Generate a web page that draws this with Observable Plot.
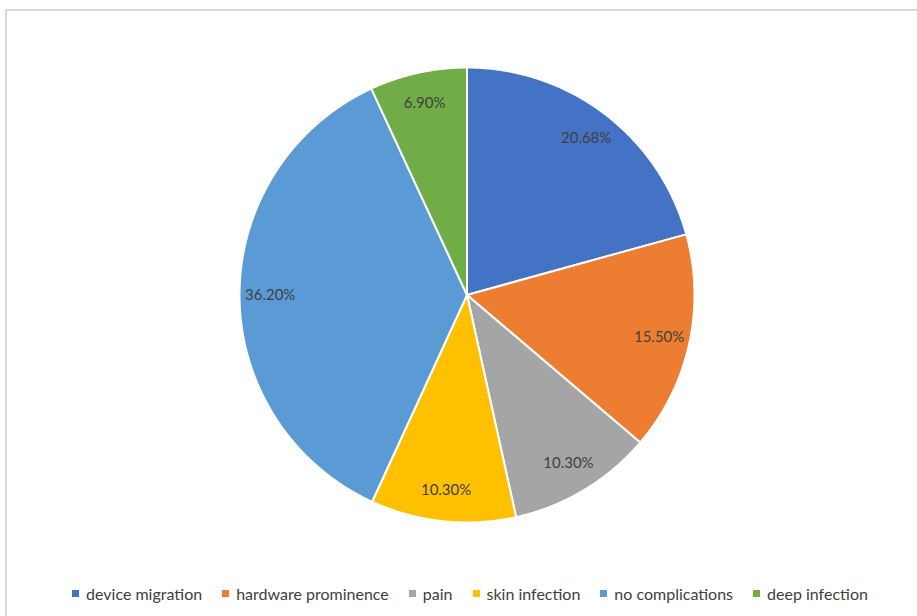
<!DOCTYPE html>
<html>
<head>
<meta charset="utf-8">
<script src="https://cdn.jsdelivr.net/npm/d3@7"></script>
<script src="https://cdn.jsdelivr.net/npm/@observablehq/plot@0.6"></script>
<style>
  html, body { margin: 0; padding: 0; background: #fff; }
  body { width: 917px; height: 616px; position: relative; overflow: hidden; font-family: Lato, "Open Sans", sans-serif; }
  #frame { position: absolute; left: 5px; top: 9px; width: 930px; height: 640px; border: 2px solid #d9d9d9; box-sizing: border-box; }
  #chart { position: absolute; left: 0; top: 0; }
  #legend { position: absolute; left: 0; top: 584px; width: 940px; display: flex; justify-content: center; gap: 20px; font-size: 16px; color: #404040; }
  #legend .item { display: flex; align-items: center; white-space: nowrap; }
  #legend .sw { width: 7px; height: 7px; margin-right: 7px; display: inline-block; }
</style>
</head>
<body>
<div id="frame"></div>
<div id="chart"></div>
<div id="legend"></div>
<script>
const categories = ["device migration", "hardware prominence", "pain", "skin infection", "no complications", "deep infection"];
const values = [20.68, 15.50, 10.30, 10.30, 36.20, 6.90];
const colors = ["#4472C4", "#ED7D31", "#A5A5A5", "#FFC000", "#5B9BD5", "#70AD47"];

const data = categories.map((name, i) => ({name, value: values[i]}));
const pie = d3.pie().value(d => d.value).sort(null)(data);

// build slice outlines in unit-circle coordinates (clockwise from 12 o'clock)
const outline = [];
for (const s of pie) {
  outline.push({name: s.data.name, x: 0, y: 0});
  const steps = Math.max(2, Math.ceil((s.endAngle - s.startAngle) / 0.005));
  for (let k = 0; k <= steps; k++) {
    const a = s.startAngle + (s.endAngle - s.startAngle) * k / steps;
    outline.push({name: s.data.name, x: Math.sin(a), y: Math.cos(a)});
  }
}
const labelR = 0.865;
const labels = pie.map(s => {
  const a = (s.startAngle + s.endAngle) / 2;
  return {name: s.data.name, x: labelR * Math.sin(a), y: labelR * Math.cos(a), text: s.data.value.toFixed(2) + "%"};
});

const chart = Plot.plot({
  width: 917,
  height: 570,
  marginLeft: 239,
  marginRight: 223,
  marginTop: 67,
  marginBottom: 48,
  x: {domain: [-1, 1], axis: null},
  y: {domain: [-1, 1], axis: null},
  color: {domain: categories, range: colors},
  style: {fontFamily: "Lato, 'Open Sans', sans-serif", background: "transparent"},
  marks: [
    Plot.line(outline, {x: "x", y: "y", z: "name", fill: "name", stroke: "white", strokeWidth: 2, strokeLinejoin: "round", curve: "linear-closed"}),
    Plot.text(labels, {x: "x", y: "y", text: "text", fill: "#404040", fontSize: 15})
  ]
});
document.getElementById("chart").appendChild(chart);

const legend = document.getElementById("legend");
categories.forEach((c, i) => {
  const item = document.createElement("div");
  item.className = "item";
  const sw = document.createElement("span");
  sw.className = "sw";
  sw.style.background = colors[i];
  item.appendChild(sw);
  item.appendChild(document.createTextNode(c));
  legend.appendChild(item);
});
</script>
</body>
</html>
